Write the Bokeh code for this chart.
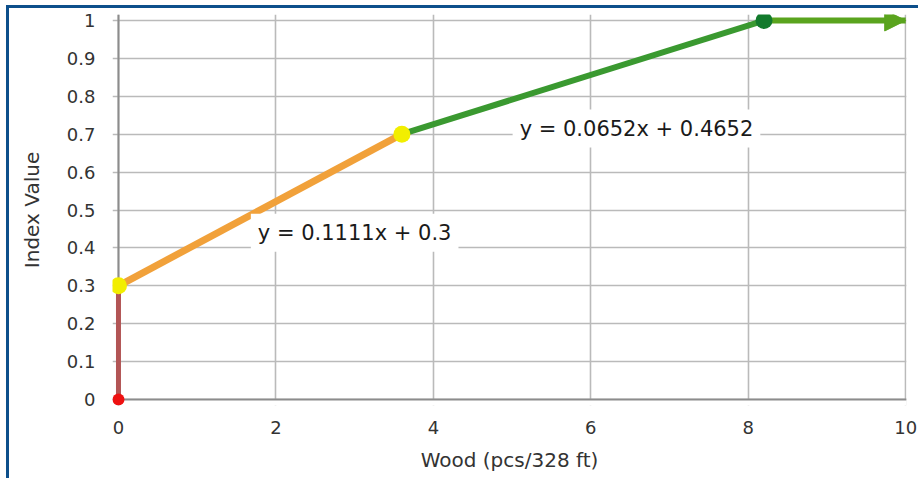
from bokeh.plotting import figure
from bokeh.models import Range1d, FixedTicker, Label, Arrow, NormalHead, Span, BoxAnnotation
from bokeh.embed import file_html
from bokeh.resources import INLINE

# ---- data ----
x_ticks = [0, 2, 4, 6, 8, 10]
y_ticks = [0, 0.1, 0.2, 0.3, 0.4, 0.5, 0.6, 0.7, 0.8, 0.9, 1.0]
y_tick_labels = ["0", "0.1", "0.2", "0.3", "0.4", "0.5", "0.6", "0.7", "0.8", "0.9", "1"]

red_x = [0, 0]
red_y = [0, 0.3]
orange_x = [0, 3.6]
orange_y = [0.3, 0.7]
green_x = [3.6, 8.2]
green_y = [0.7, 1.0]
arrow_x = [8.2, 10]
arrow_y = [1.0, 1.0]

red_pt_x = [0]
red_pt_y = [0]
yellow_pt_x = [0, 3.6]
yellow_pt_y = [0.3, 0.7]
green_pt_x = [8.2]
green_pt_y = [1.0]

eq_texts = ["y = 0.1111x + 0.3", "y = 0.0652x + 0.4652"]

x_title = "Wood (pcs/328 ft)"
y_title = "Index Value"

FONT = "DejaVu Sans"
BLUE = "#0d4f8b"
AXIS_GREY = "#8c8c8c"
ARROW_GREEN = "#5aa41e"

p = figure(width=912, height=473, output_backend="svg", toolbar_location=None,
           x_range=Range1d(-0.076, 10.01), y_range=Range1d(-0.0158, 1.0158),
           min_border_left=103, min_border_right=15, min_border_top=6, min_border_bottom=76,
           styles={"border-left": f"3px solid {BLUE}", "border-top": f"3px solid {BLUE}",
                   "margin-left": "6px", "margin-top": "5px"})
p.outline_line_color = None
p.background_fill_color = "white"
p.border_fill_color = "white"

# grids
p.xaxis.ticker = FixedTicker(ticks=x_ticks)
p.yaxis.ticker = FixedTicker(ticks=y_ticks)
p.yaxis.major_label_overrides = {t: l for t, l in zip(y_ticks, y_tick_labels)}
p.xgrid.ticker = FixedTicker(ticks=x_ticks)
p.ygrid.ticker = FixedTicker(ticks=y_ticks)
for g in (p.xgrid, p.ygrid):
    g.grid_line_color = "#bababa"
    g.grid_line_width = 1.6

# hide grid stubs below y = 0
p.add_layout(BoxAnnotation(top=0, fill_color="white", fill_alpha=1.0, line_color=None, level="underlay"))
# axis lines through the origin
p.add_layout(Span(location=0, dimension="width", line_color=AXIS_GREY, line_width=2, level="underlay"))
p.add_layout(Span(location=0, dimension="height", line_color=AXIS_GREY, line_width=2, level="underlay"))

# axes
for ax in (p.xaxis, p.yaxis):
    ax.axis_line_color = None
    ax.minor_tick_line_color = None
    ax.major_tick_line_color = None
    ax.major_tick_out = 0
    ax.major_tick_in = 0
    ax.major_label_text_font = FONT
    ax.major_label_text_font_size = "18px"
    ax.major_label_text_color = "#333333"
    ax.axis_label_text_font = FONT
    ax.axis_label_text_font_size = "20px"
    ax.axis_label_text_font_style = "normal"
    ax.axis_label_text_color = "#333333"

p.yaxis.major_label_standoff = 17
p.yaxis.axis_label = y_title
p.yaxis.axis_label_standoff = 20

p.xaxis.major_label_standoff = 15
p.xaxis.axis_label = x_title
p.xaxis.axis_label_standoff = 11

# lines
p.line(red_x, red_y, line_color="#b25555", line_width=5)
p.line(orange_x, orange_y, line_color="#f1a13a", line_width=7)
p.line(green_x, green_y, line_color="#3a9930", line_width=6)
p.line(arrow_x, arrow_y, line_color=ARROW_GREEN, line_width=6)
p.add_layout(Arrow(end=NormalHead(size=21, fill_color=ARROW_GREEN, line_color=ARROW_GREEN),
                   x_start=arrow_x[0], y_start=arrow_y[0], x_end=arrow_x[1], y_end=arrow_y[1],
                   line_alpha=0.0))

# points
p.scatter(red_pt_x, red_pt_y, size=12, fill_color="#ee1111", line_color=None)
p.scatter(yellow_pt_x, yellow_pt_y, size=17, fill_color="#f2ee00", line_color=None)
p.scatter(green_pt_x, green_pt_y, size=17, fill_color="#127a2c", line_color=None)

# equation labels
p.add_layout(Label(x=3.0, y=0.44, text=eq_texts[0], text_align="center", text_baseline="middle",
                   text_font=FONT, text_font_size="21px", text_color="#1a1a1a",
                   background_fill_color="white", padding=7))
p.add_layout(Label(x=6.58, y=0.715, text=eq_texts[1], text_align="center", text_baseline="middle",
                   text_font=FONT, text_font_size="21px", text_color="#1a1a1a",
                   background_fill_color="white", padding=7))

open("out.html", "w").write(file_html(p, INLINE))
